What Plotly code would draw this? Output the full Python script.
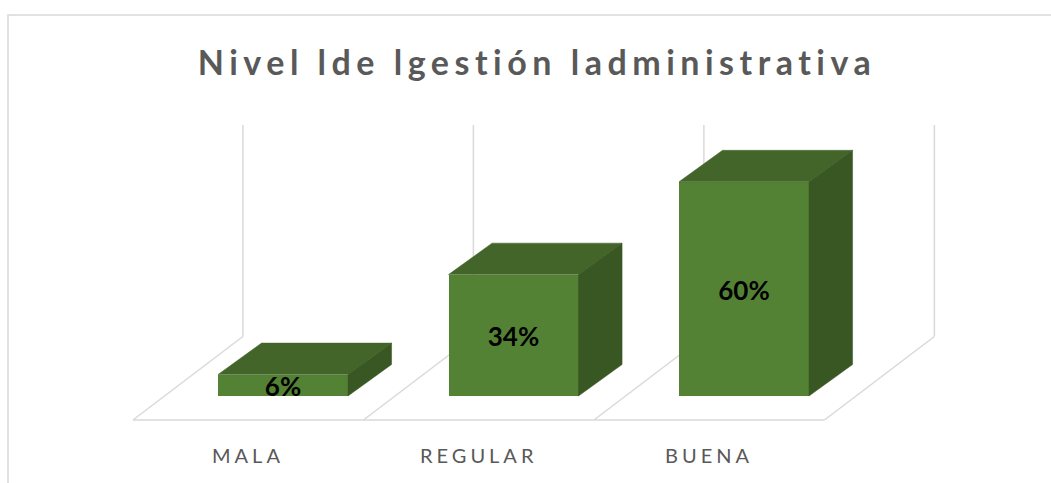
import plotly.graph_objects as go

# ---- data ----
categories = ["MALA", "REGULAR", "BUENA"]
values = [6, 34, 60]
value_labels = ["6%", "34%", "60%"]
title_text = "Nivel lde lgestión ladministrativa"

# ---- styling / geometry constants ----
W, H = 1051, 483
PX0, UX = 283.0, 230.5      # pixel of x=0, pixels per category unit
PY0, UV = 396.0, 3.57       # pixel of v=0, pixels per percent
x_range = [-PX0 / UX, (W - PX0) / UX]
y_range = [(PY0 - H) / UV, PY0 / UV]

BAR_W = 0.564
BAR_DX = 0.189
BAR_DV = 8.82
FRONT = "#548235"
TOP = "#43652A"
SIDE = "#385723"
LABEL_DROP = 4.5 / UV       # small downward offset of value labels

FLOOR_FRONT_V = -6.72
FLOOR_BACK_V = 16.67
WALL_TOP_V = 75.9
FLOOR_LEFT_X = -0.651
FLOOR_DX = 0.477
GRID = "#d9d9d9"
TEXT_GRAY = "#595959"

fig = go.Figure()

# front faces
xs = list(range(len(categories)))
fig.add_trace(go.Bar(x=xs, y=values, width=BAR_W, marker=dict(color=FRONT, line=dict(width=0)),
                     hoverinfo="skip", showlegend=False))

# top and side faces (derived from values)
for i, v in enumerate(values):
    l, r = i - BAR_W / 2, i + BAR_W / 2
    fig.add_trace(go.Scatter(
        x=[l, r, r + BAR_DX, l + BAR_DX, l],
        y=[v, v, v + BAR_DV, v + BAR_DV, v],
        fill="toself", fillcolor=TOP, mode="lines", line=dict(width=0.5, color=TOP),
        hoverinfo="skip", showlegend=False))
    fig.add_trace(go.Scatter(
        x=[r, r + BAR_DX, r + BAR_DX, r, r],
        y=[0, BAR_DV, v + BAR_DV, v, 0],
        fill="toself", fillcolor=SIDE, mode="lines", line=dict(width=0.5, color=SIDE),
        hoverinfo="skip", showlegend=False))

# value labels
fig.add_trace(go.Scatter(
    x=xs, y=[v / 2 - LABEL_DROP for v in values], text=[f"<b>{t}</b>" for t in value_labels],
    mode="text", textposition="middle center",
    textfont=dict(family="Lato", size=26, color="black"),
    hoverinfo="skip", showlegend=False))

# floor and back wall lines
n = len(categories)
shapes = []
line = dict(color=GRID, width=1.5)
shapes.append(dict(type="line", xref="x", yref="y", x0=FLOOR_LEFT_X, x1=FLOOR_LEFT_X + n,
                   y0=FLOOR_FRONT_V, y1=FLOOR_FRONT_V, line=line, layer="below"))
for k in range(n + 1):
    fx = FLOOR_LEFT_X + k
    shapes.append(dict(type="line", xref="x", yref="y", x0=fx, x1=fx + FLOOR_DX,
                       y0=FLOOR_FRONT_V, y1=FLOOR_BACK_V, line=line, layer="below"))
    shapes.append(dict(type="line", xref="x", yref="y", x0=fx + FLOOR_DX, x1=fx + FLOOR_DX,
                       y0=FLOOR_BACK_V, y1=WALL_TOP_V, line=line, layer="below"))

# outer chart frame
shapes.append(dict(type="rect", xref="paper", yref="paper", x0=8 / W, x1=1.02,
                   y0=-0.02, y1=1 - 15 / H, line=dict(color=GRID, width=1.5), layer="below"))

annotations = []
for i, c in enumerate(categories):
    annotations.append(dict(
        x=FLOOR_LEFT_X + i + 0.5, y=(PY0 - 455) / UV, xref="x", yref="y",
        text=f'<span style="letter-spacing:4px">{c}</span>', showarrow=False,
        font=dict(family="Lato", size=20, color=TEXT_GRAY), xanchor="center", yanchor="middle"))

fig.update_layout(
    width=W, height=H,
    margin=dict(l=0, r=0, t=0, b=0),
    paper_bgcolor="white", plot_bgcolor="white",
    title=dict(text=f'<b><span style="letter-spacing:5.5px">{title_text}</span></b>',
               x=537 / W, xanchor="center", y=1 - 63 / H, yanchor="middle",
               font=dict(family="Lato", size=34, color=TEXT_GRAY)),
    xaxis=dict(range=x_range, visible=False, fixedrange=True),
    yaxis=dict(range=y_range, visible=False, fixedrange=True),
    shapes=shapes, annotations=annotations,
    bargap=0,
)

fig.write_html("out.html", config={"displayModeBar": False},
               post_script="document.body.style.margin='0';document.body.style.overflow='hidden';")
